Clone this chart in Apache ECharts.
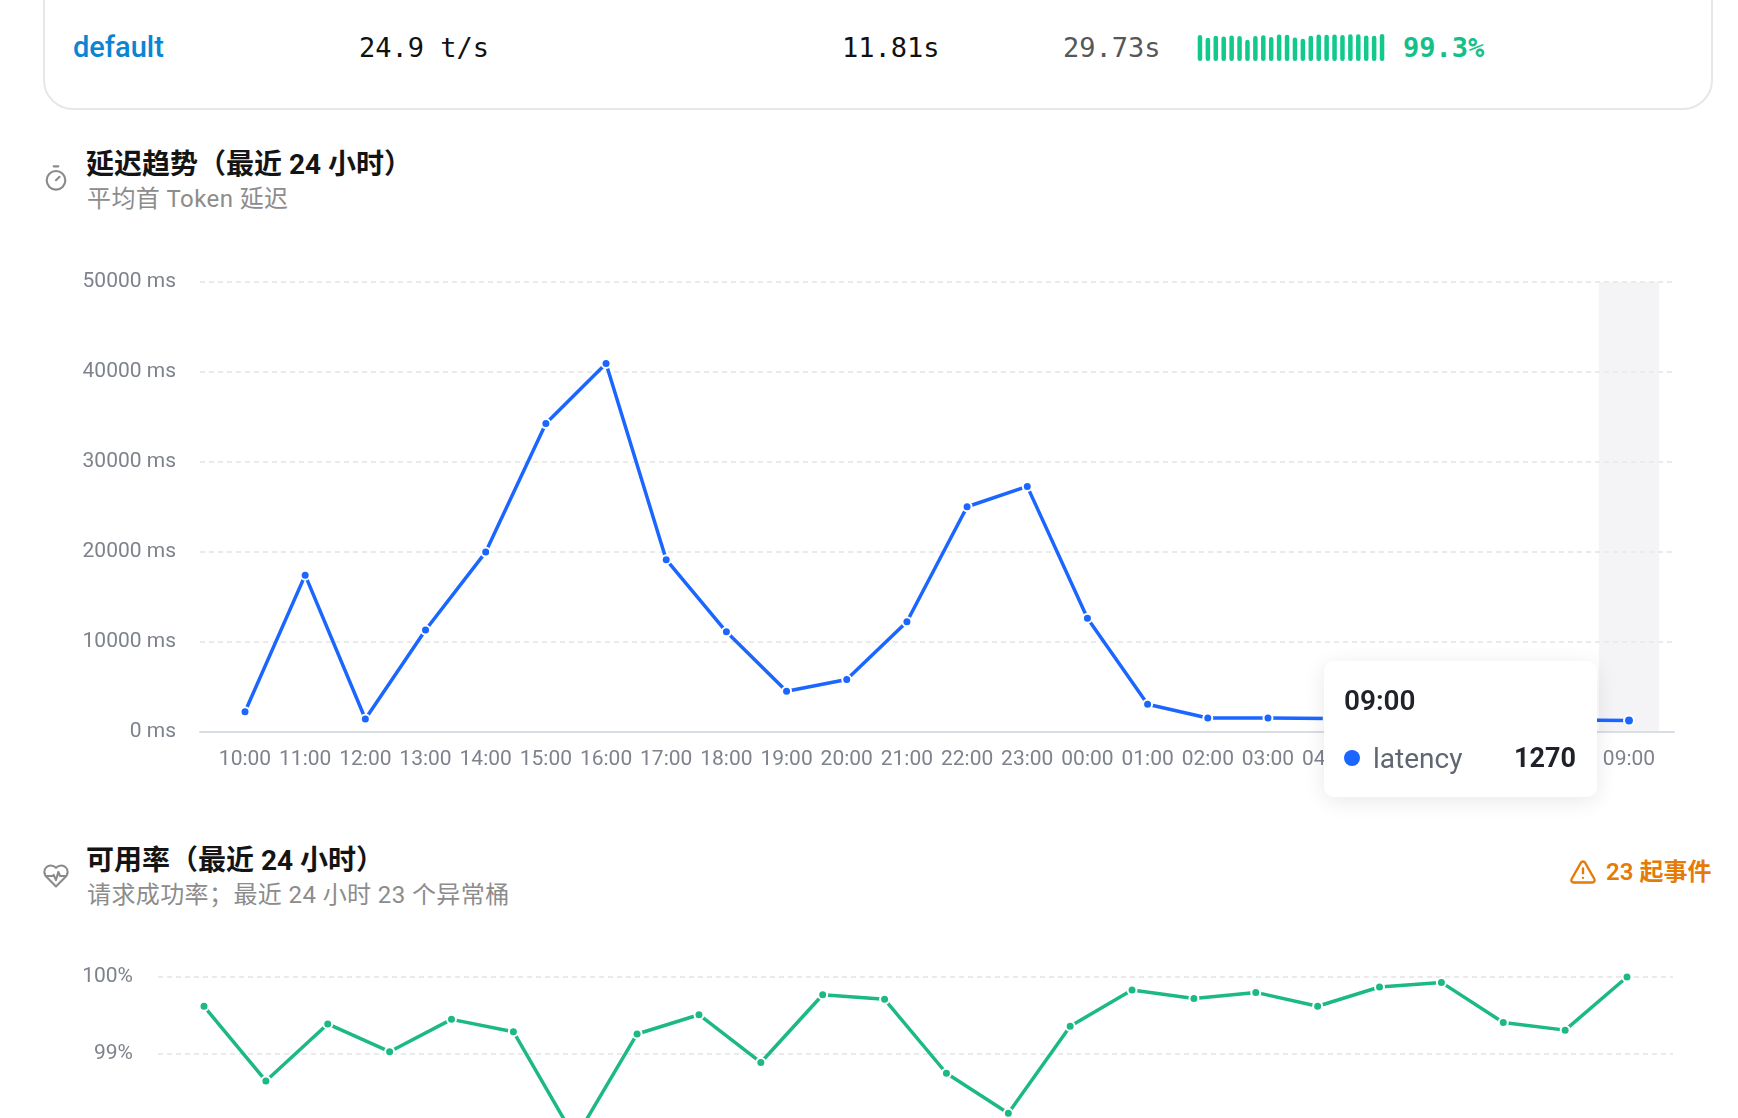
<!DOCTYPE html>
<html><head><meta charset="utf-8">
<script src="https://cdn.jsdelivr.net/npm/echarts@6/dist/echarts.min.js"></script>
<style>
html,body{margin:0;padding:0;width:1738px;height:1118px;overflow:hidden;background:#fff;font-family:Roboto,"Noto Sans CJK SC",sans-serif;}
.abs{position:absolute;white-space:nowrap;}
.card{position:absolute;left:43px;top:-40px;width:1670px;height:150px;box-sizing:border-box;border:2px solid #e7e7e7;border-radius:30px;}
.mono{font-family:"DejaVu Sans Mono",monospace;font-size:27px;line-height:27px;}
.title{font-size:28px;font-weight:700;color:#141414;line-height:28px;}
.sub{font-size:24px;color:#8c8c8c;line-height:24px;letter-spacing:0.4px;}
</style></head><body>
<div class="card"></div>
<div class="abs" style="left:73px;top:33px;font-size:29px;line-height:29px;font-weight:500;color:#0b84d4;">default</div>
<div class="abs mono" style="left:359px;top:34px;color:#111;">24.9 t/s</div>
<div class="abs mono" style="left:842px;top:34px;color:#111;">11.81s</div>
<div class="abs mono" style="left:1063px;top:34px;color:#575757;">29.73s</div>
<div id="spark" class="abs" style="left:1196px;top:34px;width:190px;height:27px;"></div>
<div class="abs mono" style="left:1403px;top:34px;color:#12c18a;font-weight:700;">99.3%</div>

<svg class="abs" style="left:42px;top:164px" width="28" height="28" viewBox="0 0 24 24" fill="none" stroke="#8a8a8a" stroke-width="1.8" stroke-linecap="round" stroke-linejoin="round"><line x1="10" x2="14" y1="2" y2="2"/><line x1="12" x2="15" y1="14" y2="11"/><circle cx="12" cy="14" r="8"/></svg>
<div class="abs title" style="left:86px;top:151px;">延迟趋势（最近 24 小时）</div>
<div class="abs sub" style="left:87px;top:187px;">平均首 Token 延迟</div>
<div id="c1" class="abs" style="left:0;top:204px;width:1738px;height:640px;"></div>

<svg class="abs" style="left:42px;top:862px" width="28" height="28" viewBox="0 0 24 24" fill="none" stroke="#8a8a8a" stroke-width="1.8" stroke-linecap="round" stroke-linejoin="round"><path d="M19 14c1.490-1.46 3-3.21 3-5.5A5.5 5.5 0 0 0 16.5 3c-1.76 0-3 .5-4.5 2-1.5-1.5-2.740-2-4.5-2A5.5 5.5 0 0 0 2 8.5c0 2.3 1.5 4.05 3 5.5l7 7Z"/><path d="M3.22 12H9.5l.5-1 2 4.5 2-7 1.5 3.5h5.27"/></svg>
<div class="abs title" style="left:86px;top:847px;">可用率（最近 24 小时）</div>
<div class="abs sub" style="left:87px;top:883px;">请求成功率；最近 24 小时 23 个异常桶</div>
<svg class="abs" style="left:1569px;top:858px" width="28" height="28" viewBox="0 0 24 24" fill="none" stroke="#e57b07" stroke-width="2" stroke-linecap="round" stroke-linejoin="round"><path d="m21.73 18-8-14a2 2 0 0 0-3.48 0l-8 14A2 2 0 0 0 4 21h16a2 2 0 0 0 1.73-3"/><path d="M12 9v4"/><path d="M12 17h.01"/></svg>
<div class="abs" style="left:1606px;top:860px;font-size:24px;line-height:24px;font-weight:600;color:#e57b07;">23 起事件</div>
<div id="c2" class="abs" style="left:0;top:903px;width:1738px;height:420px;"></div>

<script>
const hours = ['10:00','11:00','12:00','13:00','14:00','15:00','16:00','17:00','18:00','19:00','20:00','21:00','22:00','23:00','00:00','01:00','02:00','03:00','04:00','05:00','06:00','07:00','08:00','09:00'];
const latency = [2250,17430,1450,11330,19990,34270,40950,19150,11130,4530,5830,12250,25030,27290,12650,3090,1550,1550,1500,1460,1420,1380,1330,1270];
const availability = [99.62,98.65,99.39,99.03,99.45,99.29,97.90,99.26,99.51,98.89,99.77,99.71,98.75,98.23,99.36,99.83,99.72,99.80,99.62,99.87,99.93,99.41,99.31,100];
const latencyTicks = [0,10000,20000,30000,40000,50000];
const availabilityTicks = [97,98,99,100];

const labelFont = {color:'#7d828c',fontSize:21,fontFamily:'Roboto'};
const splitStyle = {lineStyle:{type:[5,4],color:'#e3e3e3',width:1.5}};

function buildOption(cfg){
  const min = cfg.ticks[0], max = cfg.ticks[cfg.ticks.length-1], interval = cfg.ticks[1]-cfg.ticks[0];
  return {
    animation:false,
    grid:[
      {left:cfg.gridLeft,right:cfg.gridRight,top:cfg.top,height:cfg.height},
      {left:cfg.dataLeft,right:cfg.dataRight,top:cfg.top,height:cfg.height}
    ],
    xAxis:[
      {gridIndex:0,type:'category',data:[''],axisPointer:{show:false},
       axisLine:{lineStyle:{color:cfg.axisColor,width:2}},axisTick:{show:false},axisLabel:{show:false},splitLine:{show:false}},
      {gridIndex:1,type:'category',data:hours,boundaryGap:false,
       axisLine:{show:false},axisTick:{show:false},
       axisLabel:Object.assign({interval:0,margin:17},labelFont)}
    ],
    yAxis:[
      {gridIndex:0,type:'value',min:min,max:max,interval:interval,axisPointer:{show:false},
       axisLine:{show:false},axisTick:{show:false},
       axisLabel:Object.assign({margin:cfg.labelMargin,formatter:cfg.fmt,padding:[4,0,0,0]},labelFont),
       splitLine:splitStyle},
      {gridIndex:1,type:'value',min:min,max:max,interval:interval,show:false}
    ],
    tooltip: cfg.tooltip,
    series:[{
      name:cfg.name,type:'line',xAxisIndex:1,yAxisIndex:1,data:cfg.data,
      symbol:'circle',symbolSize:9,showSymbol:true,
      lineStyle:{color:cfg.color,width:3.5},
      itemStyle:{color:cfg.color,borderColor:'#fff',borderWidth:2},
      emphasis:{disabled:true},
      z:5
    }]
  };
}

const c1 = echarts.init(document.getElementById('c1'));
c1.setOption(buildOption({
  ticks:latencyTicks,gridLeft:200,gridRight:64,dataLeft:245,dataRight:109,top:78,height:450,
  labelMargin:24,fmt:v=>v+' ms',axisColor:'#d9dde4',name:'latency',data:latency,color:'#1a66ff',
  tooltip:{
    trigger:'axis',alwaysShowContent:true,transitionDuration:0,showDelay:0,
    axisPointer:{type:'shadow',z:0,shadowStyle:{color:'rgba(236,237,242,0.6)'}},
    position:[1324,457],padding:0,borderWidth:0,backgroundColor:'#fff',
    extraCssText:'border-radius:10px;box-shadow:0 4px 22px rgba(0,0,0,0.09);',
    formatter:function(ps){
      const p = ps[0];
      return '<div style="width:273px;height:136px;box-sizing:border-box;padding:22px 21px 0 20px;font-family:Roboto,\'Noto Sans CJK SC\',sans-serif;">'+
        '<div style="font-size:28px;line-height:36px;font-weight:600;color:#1f2329;">'+p.name+'</div>'+
        '<div style="margin-top:21px;height:36px;display:flex;align-items:center;">'+
        '<span style="display:inline-block;width:16px;height:16px;border-radius:50%;background:'+p.color+';"></span>'+
        '<span style="margin-left:13px;font-size:28px;color:#5f6571;">'+p.seriesName+'</span>'+
        '<span style="margin-left:auto;font-size:27px;font-weight:700;color:#1f2329;">'+p.value+'</span>'+
        '</div></div>';
    }
  }
}));
c1.dispatchAction({type:'showTip',seriesIndex:0,dataIndex:hours.length-1});

const c2 = echarts.init(document.getElementById('c2'));
c2.setOption(buildOption({
  ticks:availabilityTicks,gridLeft:158,gridRight:65,dataLeft:204,dataRight:111,top:74,height:231,
  labelMargin:25,fmt:v=>v+'%',axisColor:'#d9dde4',name:'availability',data:availability,color:'#1cb985',
  tooltip:{show:false}
}));

const c3 = echarts.init(document.getElementById('spark'));
c3.setOption({
  animation:false,
  grid:{left:0,right:0,top:0,bottom:0},
  xAxis:{type:'category',data:hours,show:false},
  yAxis:{type:'value',min:90,max:100,show:false},
  series:[{type:'bar',data:availability,barWidth:4.5,itemStyle:{color:'#12c98b',borderRadius:2.25}}]
});
</script>
</body></html>
